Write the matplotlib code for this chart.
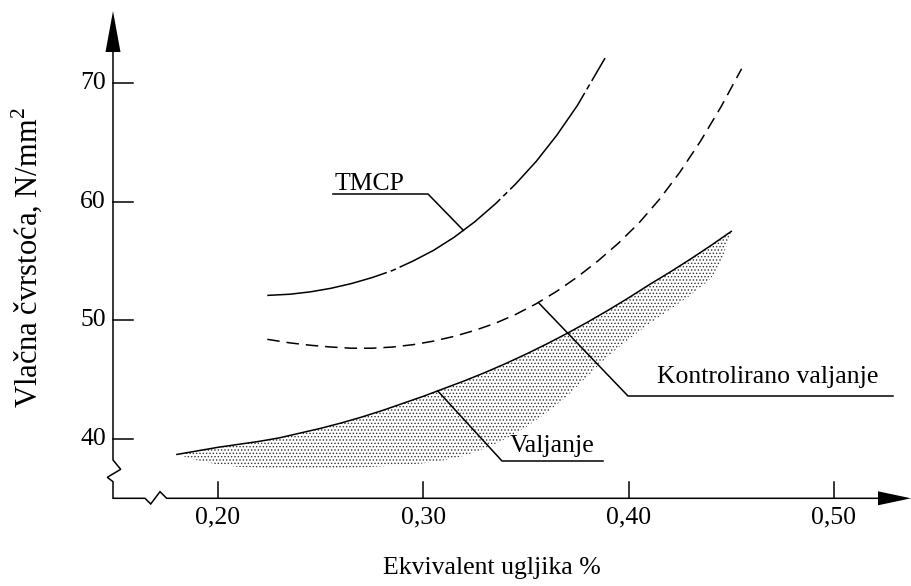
import numpy as np
import matplotlib
matplotlib.use("Agg")
import matplotlib.pyplot as plt
from matplotlib.patches import Polygon

plt.rcParams['font.family'] = ['Liberation Serif', 'DejaVu Serif']
plt.rcParams['mathtext.fontset'] = 'custom'
plt.rcParams['mathtext.rm'] = 'Liberation Serif'
plt.rcParams['lines.scale_dashes'] = False
plt.rcParams['hatch.linewidth'] = 0.6

# curves (ugljik %, N/mm2)
tmcp_x = [0.224, 0.235, 0.245, 0.255, 0.265, 0.275, 0.285, 0.295, 0.305, 0.315,
          0.325, 0.335, 0.345, 0.355, 0.365, 0.375, 0.3885]
tmcp_y = [52.1, 52.2, 52.4, 52.7, 53.1, 53.6, 54.2, 55.0, 55.9, 57.0,
          58.3, 59.8, 61.5, 63.4, 65.6, 68.1, 72.1]

kontr_x = [0.224, 0.235, 0.245, 0.255, 0.265, 0.275, 0.285, 0.295, 0.305, 0.315, 0.325,
           0.335, 0.345, 0.355, 0.365, 0.375, 0.385, 0.395, 0.405, 0.415, 0.425, 0.435,
           0.445, 0.455]
kontr_y = [48.4, 48.1, 47.9, 47.75, 47.65, 47.65, 47.75, 47.95, 48.25, 48.65, 49.15,
           49.75, 50.5, 51.4, 52.45, 53.65, 55.0, 56.5, 58.2, 60.2, 62.5, 65.1,
           68.0, 71.2]

valj_x = [0.18, 0.19, 0.20, 0.21, 0.22, 0.23, 0.24, 0.25, 0.26, 0.27, 0.28, 0.29, 0.30,
          0.31, 0.32, 0.33, 0.34, 0.35, 0.36, 0.37, 0.38, 0.39, 0.40, 0.41, 0.42, 0.43,
          0.44, 0.45]
valj_y = [38.7, 39.0, 39.3, 39.55, 39.8, 40.1, 40.5, 40.9, 41.35, 41.85, 42.4, 43.0, 43.6,
          44.25, 44.9, 45.6, 46.35, 47.15, 48.0, 48.9, 49.85, 50.85, 51.9, 53.0, 54.05, 55.15,
          56.3, 57.5]

# lower edge of the stippled band
band_x = [0.18, 0.19, 0.20, 0.21, 0.23, 0.25, 0.27, 0.29, 0.30, 0.31, 0.32, 0.33, 0.34,
          0.35, 0.36, 0.37, 0.38, 0.39, 0.40, 0.41, 0.42, 0.43, 0.44, 0.445, 0.45]
band_y = [38.7, 38.2, 37.85, 37.65, 37.5, 37.5, 37.6, 37.8, 37.95, 38.2, 38.6, 39.2, 40.0,
          41.0, 42.2, 43.6, 45.3, 47.0, 48.4, 49.7, 50.9, 52.1, 53.5, 54.9, 57.5]

x_ticks = [0.20, 0.30, 0.40, 0.50]
x_tick_labels = ['0,20', '0,30', '0,40', '0,50']
y_ticks = [40, 50, 60, 70]

W, H = 912, 586
fig = plt.figure(figsize=(W / 100, H / 100), dpi=100)
ax = fig.add_axes([0, 0, 1, 1])
ax.set_axis_off()

# pixel positions of two ticks on each axis -> data limits
X20, X50 = 218, 834
Y40, Y70 = 439, 83
sx = (X50 - X20) / 0.30
sy = (Y40 - Y70) / 30.0
ax.set_xlim(0.20 - X20 / sx, 0.20 + (W - X20) / sx)
ax.set_ylim(40 - (H - Y40) / sy, 40 + Y40 / sy)


def P(px, py):
    """pixel (from top-left) -> data coords"""
    return 0.20 + (px - X20) / sx, 40 + (Y40 - py) / sy


lw = 1.1
FS = 18.5

# axes with break marks
frame = [(113, 50), (113, 460), (120.7, 469.3), (107.3, 477.3), (113, 481.7), (113, 498.3),
         (145, 498.3), (150.7, 504), (160, 491.7), (166.7, 498.3), (880, 498.3)]
fx, fy = zip(*[P(*p) for p in frame])
ax.plot(fx, fy, color='black', lw=lw, solid_joinstyle='miter')
ax.add_patch(Polygon([P(113, 11), P(105.5, 52), P(120.5, 52)], closed=True, color='black', lw=0))
ax.add_patch(Polygon([P(911, 498.3), P(878, 491.3), P(878, 505.3)], closed=True, color='black', lw=0))

for v in y_ticks:
    ax.plot([P(113, 0)[0], P(133, 0)[0]], [v, v], color='black', lw=lw)
    ax.text(P(106, 0)[0], v, str(v), ha='right', va='center', fontsize=FS)
for v, lab in zip(x_ticks, x_tick_labels):
    ax.plot([v, v], [P(0, 498.3)[1], P(0, 482)[1]], color='black', lw=lw)
    ax.text(v, P(0, 517)[1], lab, ha='center', va='center', fontsize=FS)

ax.text(P(27, 0)[0], P(0, 258)[1], r'Vlačna čvrstoća, N/mm$^\mathregular{2}$', rotation=90,
        ha='center', va='center', fontsize=22)
ax.text(P(492, 0)[0], P(0, 568)[1], 'Ekvivalent ugljika %', ha='center', va='center', fontsize=FS)

# stippled band under the plain rolling curve
poly_x = np.concatenate([valj_x, band_x[::-1]])
poly_y = np.concatenate([valj_y, band_y[::-1]])
ax.fill(poly_x, poly_y, facecolor='none', edgecolor='#333333', hatch='.....', lw=0)

ax.plot(tmcp_x, tmcp_y, color='black', lw=lw, dashes=(88, 3, 4, 3), dash_capstyle='butt')
ax.plot(kontr_x, kontr_y, color='black', lw=lw, dashes=(9, 5), dash_capstyle='butt')
ax.plot(valj_x, valj_y, color='black', lw=lw)

# labels with leader lines
tx = 0.3195
ty = np.interp(tx, tmcp_x, tmcp_y)
lx, ly = zip(P(333, 194), P(428, 194), (tx, ty))
ax.plot(lx, ly, color='black', lw=lw)
ax.text(*P(335, 190), 'TMCP', ha='left', va='baseline', fontsize=FS)

kx = 0.356
ky = np.interp(kx, kontr_x, kontr_y)
lx, ly = zip((kx, ky), P(628, 396), P(893, 396))
ax.plot(lx, ly, color='black', lw=lw)
ax.text(*P(657, 383), 'Kontrolirano valjanje', ha='left', va='baseline', fontsize=FS)

vx = 0.307
vy = np.interp(vx, valj_x, valj_y)
lx, ly = zip((vx, vy), P(502, 461), P(603, 461))
ax.plot(lx, ly, color='black', lw=lw)
ax.text(*P(510, 452), 'Valjanje', ha='left', va='baseline', fontsize=FS)

fig.savefig('out.png', dpi=100, facecolor='white')
